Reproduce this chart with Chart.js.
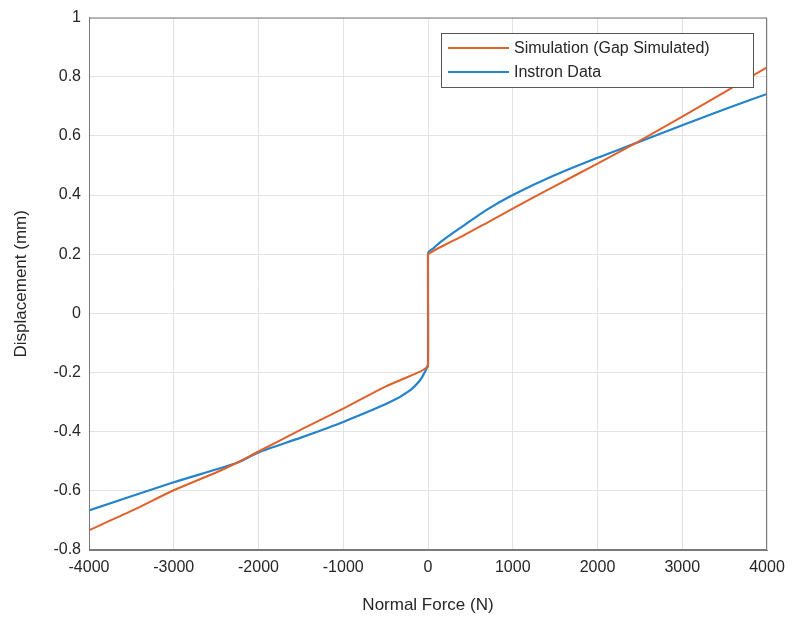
<!DOCTYPE html>
<html>
<head>
<meta charset="utf-8">
<script src="https://cdn.jsdelivr.net/npm/chart.js@4"></script>
<style>
  body { margin: 0; background: #fff; }
  #wrap { width: 793px; height: 620px; }
</style>
</head>
<body>
<div id="wrap"><canvas id="grafico" width="793" height="620"></canvas></div>
<script>
// datos
const simForce = [-4000, -3500, -3000, -2500, -2254, -2000, -1500, -1000, -527, -330, -100, -35, 0, 0, 20, 200, 417, 700, 1000, 1479, 2000, 2450, 3000, 3500, 4000];
const simDisp  = [-0.733, -0.668, -0.598, -0.538, -0.505, -0.467, -0.393, -0.322, -0.251, -0.226, -0.198, -0.187, -0.18, 0.2, 0.204, 0.232, 0.263, 0.307, 0.354, 0.428, 0.506, 0.576, 0.665, 0.748, 0.832];

const instForce = [-4000, -3000, -2254, -2000, -1500, -1000, -448, -212, -94, -40, -15, 0, 0, 15, 63, 142, 250, 417, 692, 1000, 1479, 2000, 2450, 3000, 3500, 4000];
const instDisp  = [-0.666, -0.571, -0.505, -0.47, -0.42, -0.367, -0.3, -0.26, -0.226, -0.2, -0.185, -0.17, 0.2, 0.21, 0.22, 0.24, 0.263, 0.296, 0.35, 0.4, 0.465, 0.526, 0.575, 0.636, 0.69, 0.742];

const xTicks = [-4000, -3000, -2000, -1000, 0, 1000, 2000, 3000, 4000];
const yTicks = [-0.8, -0.6, -0.4, -0.2, 0, 0.2, 0.4, 0.6, 0.8, 1];

const toPoints = (xs, ys) => xs.map((x, i) => ({ x: x, y: ys[i] }));
const fuente = '"Liberation Sans", Arial, sans-serif';

// caja de ejes + leyenda dentro del area
const cajaLeyenda = {
    id: 'cajaLeyenda',
    afterDraw(chart) {
        const { ctx, chartArea: a } = chart;
        ctx.save();
        ctx.strokeStyle = '#7a7a7a';
        ctx.lineWidth = 1;
        ctx.strokeRect(a.left + 0.5, a.top + 0.5, a.right - a.left - 1, a.bottom - a.top - 1);

        const bx = 441, by = 33, bw = 312, bh = 54;
        ctx.fillStyle = '#fff';
        ctx.fillRect(bx, by, bw, bh);
        ctx.strokeStyle = '#555';
        ctx.strokeRect(bx + 0.5, by + 0.5, bw, bh);
        ctx.font = '16px ' + fuente;
        ctx.textBaseline = 'middle';
        chart.data.datasets.forEach((ds, i) => {
            const yy = by + 15 + i * 24;
            ctx.strokeStyle = ds.borderColor;
            ctx.lineWidth = 2;
            ctx.beginPath();
            ctx.moveTo(bx + 7, yy);
            ctx.lineTo(bx + 68, yy);
            ctx.stroke();
            ctx.fillStyle = '#262626';
            ctx.fillText(ds.label, bx + 73, yy + 1);
        });
        ctx.restore();
    }
};

const ctx = document.getElementById('grafico');
new Chart(ctx, {
    type: 'scatter',
    data: {
        datasets: [
            {
                label: 'Simulation (Gap Simulated)',
                data: toPoints(simForce, simDisp),
                showLine: true,
                borderColor: '#E0622A',
                borderWidth: 2,
                pointRadius: 0,
                tension: 0.25
            },
            {
                label: 'Instron Data',
                data: toPoints(instForce, instDisp),
                showLine: true,
                borderColor: '#2383CC',
                borderWidth: 2.2,
                pointRadius: 0,
                tension: 0.25
            }
        ]
    },
    options: {
        responsive: false,
        animation: false,
        layout: { padding: { left: 0, top: 17, right: 26, bottom: 0 } },
        plugins: {
            legend: { display: false },
            tooltip: { enabled: false }
        },
        scales: {
            x: {
                type: 'linear',
                min: -4000,
                max: 4000,
                afterBuildTicks: s => { s.ticks = xTicks.map(v => ({ value: v })); },
                afterFit: s => { s.height = 70; },
                grid: { color: '#e3e3e3', drawTicks: false },
                border: { color: '#7a7a7a' },
                ticks: {
                    padding: 8,
                    color: '#262626',
                    font: { size: 16, family: fuente },
                    callback: v => String(v)
                },
                title: {
                    display: true,
                    text: 'Normal Force (N)',
                    color: '#262626',
                    padding: { top: 4 },
                    font: { size: 17, family: fuente }
                }
            },
            y: {
                type: 'linear',
                min: -0.8,
                max: 1,
                afterBuildTicks: s => { s.ticks = yTicks.map(v => ({ value: v })); },
                afterFit: s => { s.width = 89; },
                grid: { color: '#e3e3e3', drawTicks: false },
                border: { color: '#7a7a7a' },
                ticks: {
                    padding: 8,
                    color: '#262626',
                    font: { size: 16, family: fuente },
                    callback: v => String(Math.round(v * 10) / 10)
                },
                title: {
                    display: true,
                    text: 'Displacement (mm)',
                    color: '#262626',
                    padding: { top: 11, bottom: 0 },
                    font: { size: 17, family: fuente }
                }
            }
        }
    },
    plugins: [cajaLeyenda]
});
</script>
</body>
</html>
